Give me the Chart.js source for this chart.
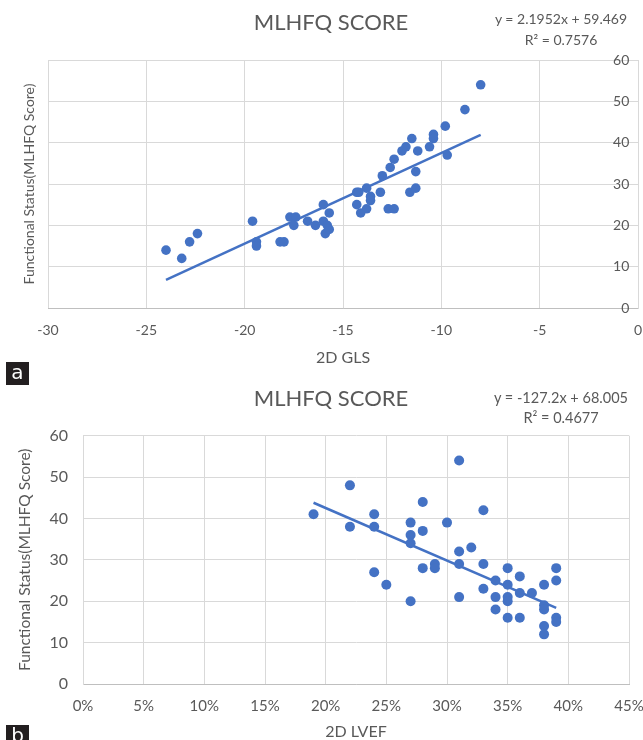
<!DOCTYPE html>
<html>
<head>
<meta charset="utf-8">
<script src="https://cdn.jsdelivr.net/npm/chart.js@4"></script>
<style>
  body { margin: 0; background: #fff; }
  #wrap { position: relative; width: 643px; height: 740px; overflow: hidden; font-family: Lato, sans-serif; }
  .box { position: absolute; left: 0; width: 643px; height: 370px; }
  .title { position: absolute; left: 231px; width: 200px; text-align: center; color: #595959; font-size: 22px; line-height: 26px; }
  .eq { position: absolute; left: 481px; width: 160px; color: #595959; text-align: center; white-space: nowrap; }
  .tag { position: absolute; left: 6px; width: 23px; height: 23px; background: #231f20; color: #fff;
         font: 20px "DejaVu Sans", sans-serif; text-align: center; line-height: 20px; }
</style>
</head>
<body>
<div id="wrap">
  <div class="box" style="top:0"><canvas id="chartA" width="643" height="370"></canvas></div>
  <div class="box" style="top:370px"><canvas id="chartB" width="643" height="370"></canvas></div>
  <div class="title" style="top:9px">MLHFQ SCORE</div>
  <div class="title" style="top:385px">MLHFQ SCORE</div>
  <div class="eq" style="top:8px; line-height:21px; font-size:14px">y = 2.1952x + 59.469<br>R² = 0.7576</div>
  <div class="eq" style="top:388px; line-height:20px; font-size:14.5px">y = -127.2x + 68.005<br>R² = 0.4677</div>
  <div class="tag" style="top:362px">a</div>
  <div class="tag" style="top:725px">b</div>
</div>
<script>
// panel a: 2D GLS vs MLHFQ score
const gls = [-24.0, -23.2, -22.8, -22.4, -19.6, -19.4, -19.4, -18.2, -18.0, -17.7, -17.4, -17.5,
  -16.8, -16.4, -16.0, -16.0, -15.7, -15.8, -15.9, -15.7, -14.3, -14.2, -13.8, -13.6, -13.6, -14.3,
  -14.1, -13.8, -13.1, -12.7, -12.4, -13.0, -12.6, -12.4, -12.0, -11.8, -11.5, -11.2, -11.3, -11.6,
  -11.3, -10.6, -10.4, -10.4, -9.8, -9.7, -8.8, -8.0];
const mlhfqA = [14, 12, 16, 18, 21, 16, 15, 16, 16, 22, 22, 20,
  21, 20, 25, 21, 23, 20, 18, 19, 28, 28, 29, 27, 26, 25,
  23, 24, 28, 24, 24, 32, 34, 36, 38, 39, 41, 38, 33, 28,
  29, 39, 42, 41, 44, 37, 48, 54];
const trendAx = [-24, -8];
const trendAy = [6.8, 41.9];

// panel b: 2D LVEF vs MLHFQ score
const lvef = [0.19, 0.22, 0.22, 0.24, 0.24, 0.24, 0.25, 0.27, 0.27, 0.27, 0.27, 0.28, 0.28, 0.28,
  0.29, 0.29, 0.30, 0.31, 0.31, 0.31, 0.31, 0.32, 0.33, 0.33, 0.33, 0.34, 0.34, 0.34,
  0.35, 0.35, 0.35, 0.35, 0.35, 0.36, 0.36, 0.36, 0.37, 0.38, 0.38, 0.38, 0.38, 0.38,
  0.39, 0.39, 0.39, 0.39];
const mlhfqB = [41, 48, 38, 41, 38, 27, 24, 39, 36, 34, 20, 44, 37, 28,
  29, 28, 39, 54, 32, 29, 21, 33, 42, 29, 23, 25, 21, 18,
  28, 24, 21, 20, 16, 26, 22, 16, 22, 24, 19, 18, 14, 12,
  28, 25, 16, 15];
const trendBx = [0.19, 0.39];
const trendBy = [43.8, 18.4];
const lvefTicks = ['0%', '5%', '10%', '15%', '20%', '25%', '30%', '35%', '40%', '45%'];

const grey = '#595959';
const blue = '#4472c4';
const gridCol = '#d9d9d9';
Chart.defaults.font.family = 'Lato, sans-serif';

function pts(xs, ys) {
  return xs.map((x, i) => ({ x: x, y: ys[i] }));
}

function datasets(xs, ys, tx, ty, r) {
  return [
    { type: 'scatter', data: pts(xs, ys), backgroundColor: blue, borderColor: blue,
      pointRadius: r, borderWidth: 0 },
    { type: 'line', data: pts(tx, ty), borderColor: blue, borderWidth: 2.5,
      pointRadius: 0, fill: false }
  ];
}

// fixed axis height, no extra side padding for the end labels
function fixX(h) {
  return s => { s.height = h; s.paddingLeft = 0; s.paddingRight = 0; };
}

const plugins = {
  legend: { display: false },
  tooltip: { enabled: false }
};

new Chart(document.getElementById('chartA'), {
  type: 'scatter',
  data: { datasets: datasets(gls, mlhfqA, trendAx, trendAy, 4.8) },
  options: {
    responsive: false,
    animation: false,
    layout: { padding: { top: 60, left: 0, right: 5, bottom: 0 } },
    plugins: plugins,
    scales: {
      x: {
        type: 'linear', position: 'bottom', min: -30, max: 0,
        ticks: { stepSize: 5, color: grey, font: { size: 14 }, padding: 14 },
        grid: { color: gridCol, drawTicks: false },
        border: { color: '#bfbfbf' },
        title: { display: true, text: '2D GLS', color: grey, font: { size: 16 }, padding: { top: 0, bottom: 3 } },
        afterFit: fixX(62)
      },
      // value axis crosses the x axis at 0, like the original; labels sit left of it
      y: {
        type: 'linear', axis: 'y', position: { x: 0 }, min: 0, max: 60,
        ticks: { stepSize: 10, padding: 15, color: grey, font: { size: 14 },
          callback: v => v + '\u2002\u2009' },
        grid: { color: gridCol, drawTicks: false },
        border: { color: gridCol }
      },
      yt: {
        type: 'linear', axis: 'y', position: 'left',
        ticks: { display: false },
        grid: { display: false },
        border: { display: false },
        title: { display: true, text: 'Functional Status(MLHFQ Score)', color: grey,
          font: { size: 14 }, padding: { top: 21, bottom: 0 } },
        afterFit: s => { s.width = 48; }
      }
    }
  }
});

new Chart(document.getElementById('chartB'), {
  type: 'scatter',
  data: { datasets: datasets(lvef, mlhfqB, trendBx, trendBy, 5) },
  options: {
    responsive: false,
    animation: false,
    layout: { padding: { left: 0, right: 14, top: 65.7, bottom: 0 } },
    plugins: plugins,
    scales: {
      x: {
        type: 'linear', position: 'bottom', min: 0, max: 0.45,
        ticks: { stepSize: 0.05, color: grey, font: { size: 15 }, padding: 13,
          callback: (v, i) => lvefTicks[i] },
        grid: { color: gridCol, drawTicks: false },
        border: { color: '#bfbfbf' },
        title: { display: true, text: '2D LVEF', color: grey, font: { size: 16, lineHeight: 1 }, padding: 0 },
        afterFit: fixX(56)
      },
      y: {
        type: 'linear', position: 'left', min: 0, max: 60,
        ticks: { stepSize: 10, padding: 15, color: grey, font: { size: 16 } },
        grid: { color: gridCol, drawTicks: false },
        border: { color: gridCol },
        title: { display: true, text: 'Functional Status(MLHFQ Score)', color: grey,
          font: { size: 15.5 }, padding: { top: 15.7, bottom: 0 } },
        afterFit: s => { s.width = 83; }
      }
    }
  }
});
</script>
</body>
</html>
